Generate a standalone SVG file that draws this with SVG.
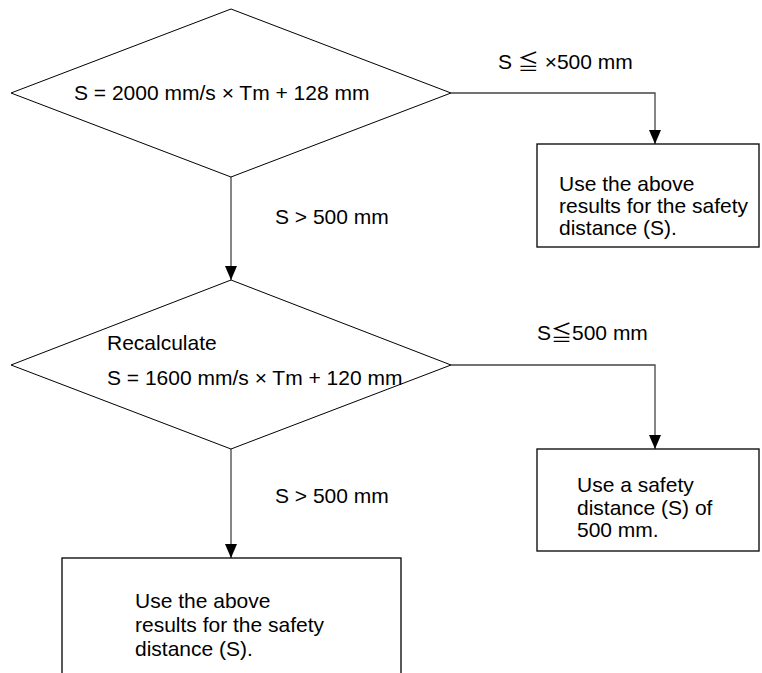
<svg xmlns="http://www.w3.org/2000/svg" width="762" height="673" viewBox="0 0 762 673">
<defs>
<style>
text{font-family:"Liberation Sans",Arial,"Noto Sans CJK JP",sans-serif;font-size:21px;fill:#000}
.shape{fill:#fff;stroke:#000;stroke-width:1}
.box{fill:#fff;stroke:#000;stroke-width:1.3}
.conn{fill:none;stroke:#444;stroke-width:1.3}
</style>
<marker id="arr" markerUnits="userSpaceOnUse" markerWidth="14" markerHeight="14" viewBox="0 0 12 14" refX="6" refY="14" orient="auto-start-reverse">
<path d="M0,0 L12,0 L6,14 Z" fill="#000"/>
</marker>
<marker id="arrd" markerUnits="userSpaceOnUse" markerWidth="14" markerHeight="14" viewBox="0 0 14 12" refX="14" refY="6" orient="auto">
<path d="M0,0 L14,6 L0,12 Z" fill="#000"/>
</marker>
</defs>
<g id="connectors">
<line class="conn" x1="231" y1="177" x2="231" y2="280" marker-end="url(#arrd)"/>
<polyline class="conn" points="451,93 655,93 655,144" marker-end="url(#arrd)"/>
<polyline class="conn" points="451,365 655,365 655,449" marker-end="url(#arrd)"/>
<line class="conn" x1="231" y1="449" x2="231" y2="558" marker-end="url(#arrd)"/>
<text x="498" y="69">S ≦ ×500 mm</text>
<text x="275" y="224">S &gt; 500 mm</text>
<text x="537" y="340">S≦500 mm</text>
<text x="275" y="503">S &gt; 500 mm</text>
</g>
<g id="decision1">
<polygon class="shape" points="231,9 451,93 231,177 11,93"/>
<text x="74" y="100">S = 2000 mm/s × Tm + 128 mm</text>
</g>
<g id="result1">
<rect class="box" x="537" y="144" width="222" height="103"/>
<text x="559" y="191">Use the above</text>
<text x="559" y="213">results for the safety</text>
<text x="559" y="235">distance (S).</text>
</g>
<g id="decision2">
<polygon class="shape" points="231,280 451,365 231,449 11,365"/>
<text x="107" y="350">Recalculate</text>
<text x="107" y="385">S = 1600 mm/s × Tm + 120 mm</text>
</g>
<g id="result2">
<rect class="box" x="537" y="449" width="222" height="102"/>
<text x="577" y="492">Use a safety</text>
<text x="577" y="515">distance (S) of</text>
<text x="577" y="537">500 mm.</text>
</g>
<g id="result3">
<rect class="box" x="62" y="558" width="339" height="140"/>
<text x="135" y="608">Use the above</text>
<text x="135" y="632">results for the safety</text>
<text x="135" y="656">distance (S).</text>
</g>
</svg>
